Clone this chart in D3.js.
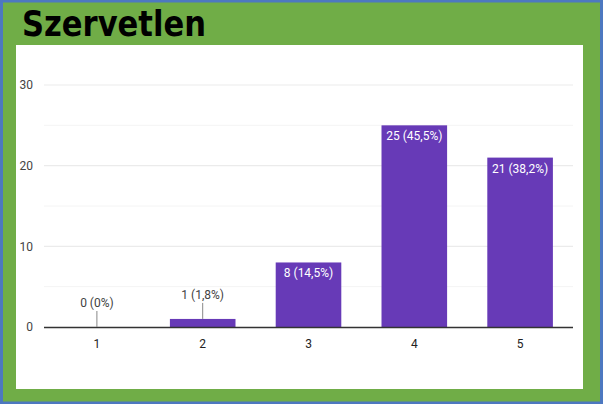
<!DOCTYPE html>
<html>
<head>
  <meta charset="utf-8">
  <script src="https://d3js.org/d3.v7.min.js"></script>
  <style>
    body { margin: 0; background: #fff; }
    svg { display: block; }
  </style>
</head>
<body>
  <script>
    // chart data
    var categories = ['1', '2', '3', '4', '5'];
    var counts = [0, 1, 8, 25, 21];
    var percents = ['0%', '1,8%', '14,5%', '45,5%', '38,2%'];
    var majorTicks = [0, 10, 20, 30];
    var minorTicks = [5, 15, 25];
    var titleText = 'Szervetlen';

    var outerWidth = 603,
      outerHeight = 404;

    // the white panel inside the green frame
    var panel = { x: 16, y: 45, w: 567, h: 344 };

    // plot area
    var margin = { top: 85, left: 44, right: 30, bottom: 77 };
    var width = outerWidth - margin.left - margin.right,
      height = outerHeight - margin.top - margin.bottom;

    var svg = d3.select('body')
      .append('svg')
      .attr('width', outerWidth)
      .attr('height', outerHeight);

    // green frame with blue edge
    svg.append('rect')
      .attr('x', 1.5).attr('y', 1)
      .attr('width', outerWidth - 3).attr('height', outerHeight - 2)
      .attr('fill', '#70ad47')
      .attr('stroke', '#4d78c0')
      .attr('stroke-width', 3);

    svg.append('rect')
      .attr('x', panel.x).attr('y', panel.y)
      .attr('width', panel.w).attr('height', panel.h)
      .attr('fill', '#ffffff');

    svg.append('text')
      .attr('x', 22)
      .attr('y', 36)
      .attr('font-family', 'DejaVu Sans, sans-serif')
      .attr('font-weight', 'bold')
      .attr('font-size', 36)
      .attr('textLength', 184)
      .attr('lengthAdjust', 'spacingAndGlyphs')
      .attr('fill', '#000')
      .text(titleText);

    var g = svg.append('g')
      .attr('transform', 'translate(' + margin.left + ',' + margin.top + ')');

    var xScale = d3.scaleBand()
      .domain(categories)
      .range([0, width])
      .paddingInner(0.38)
      .paddingOuter(0.19);

    var yScale = d3.scaleLinear()
      .domain([0, 30])
      .range([height, 0]);

    // gridlines
    g.selectAll('.minor')
      .data(minorTicks)
      .enter().append('line')
      .attr('x1', 0).attr('x2', width)
      .attr('y1', function(d) { return yScale(d); })
      .attr('y2', function(d) { return yScale(d); })
      .attr('stroke', '#f4f4f4')
      .attr('stroke-width', 1);

    g.selectAll('.major')
      .data(majorTicks.filter(function(d) { return d > 0; }))
      .enter().append('line')
      .attr('x1', 0).attr('x2', width)
      .attr('y1', function(d) { return yScale(d); })
      .attr('y2', function(d) { return yScale(d); })
      .attr('stroke', '#ebebeb')
      .attr('stroke-width', 1.2);

    // y labels
    var yAxis = d3.axisLeft(yScale)
      .tickValues(majorTicks)
      .tickSize(0)
      .tickPadding(11);
    var yG = g.append('g').call(yAxis);
    yG.select('.domain').remove();
    yG.selectAll('text')
      .attr('font-family', 'Liberation Sans Narrow, Roboto, sans-serif')
      .attr('font-size', 12)
      .attr('fill', '#444');

    // x labels
    var xAxis = d3.axisBottom(xScale)
      .tickSize(0)
      .tickPadding(12);
    var xG = g.append('g')
      .attr('transform', 'translate(0,' + height + ')')
      .call(xAxis);
    xG.select('.domain').remove();
    xG.selectAll('text')
      .attr('font-family', 'Liberation Sans Narrow, Roboto, sans-serif')
      .attr('font-size', 12)
      .attr('fill', '#222');

    var rows = categories.map(function(c, i) {
      return { cat: c, value: counts[i], pct: percents[i] };
    });

    // bars
    g.selectAll('.bar')
      .data(rows)
      .enter().append('rect')
      .attr('x', function(d) { return xScale(d.cat); })
      .attr('y', function(d) { return yScale(d.value); })
      .attr('width', xScale.bandwidth())
      .attr('height', function(d) { return height - yScale(d.value); })
      .attr('fill', '#673ab7');

    // baseline
    g.append('line')
      .attr('x1', 0).attr('x2', width)
      .attr('y1', height + 0.5).attr('y2', height + 0.5)
      .attr('stroke', '#333')
      .attr('stroke-width', 1.5);

    // labels: inside tall bars, above short ones with a leader line
    rows.forEach(function(d) {
      var cx = xScale(d.cat) + xScale.bandwidth() / 2;
      var top = yScale(d.value);
      var label = d.value + ' (' + d.pct + ')';
      var inside = height - top > 25;
      if (!inside) {
        g.append('line')
          .attr('x1', cx).attr('x2', cx)
          .attr('y1', top - 16).attr('y2', top)
          .attr('stroke', '#888')
          .attr('stroke-width', 1);
      }
      g.append('text')
        .attr('x', cx)
        .attr('y', inside ? top + 15 : top - 20)
        .attr('text-anchor', 'middle')
        .attr('font-family', 'Liberation Sans Narrow, Roboto, sans-serif')
        .attr('font-size', 12)
        .attr('fill', inside ? '#ffffff' : '#424242')
        .text(label);
    });
  </script>
</body>
</html>
